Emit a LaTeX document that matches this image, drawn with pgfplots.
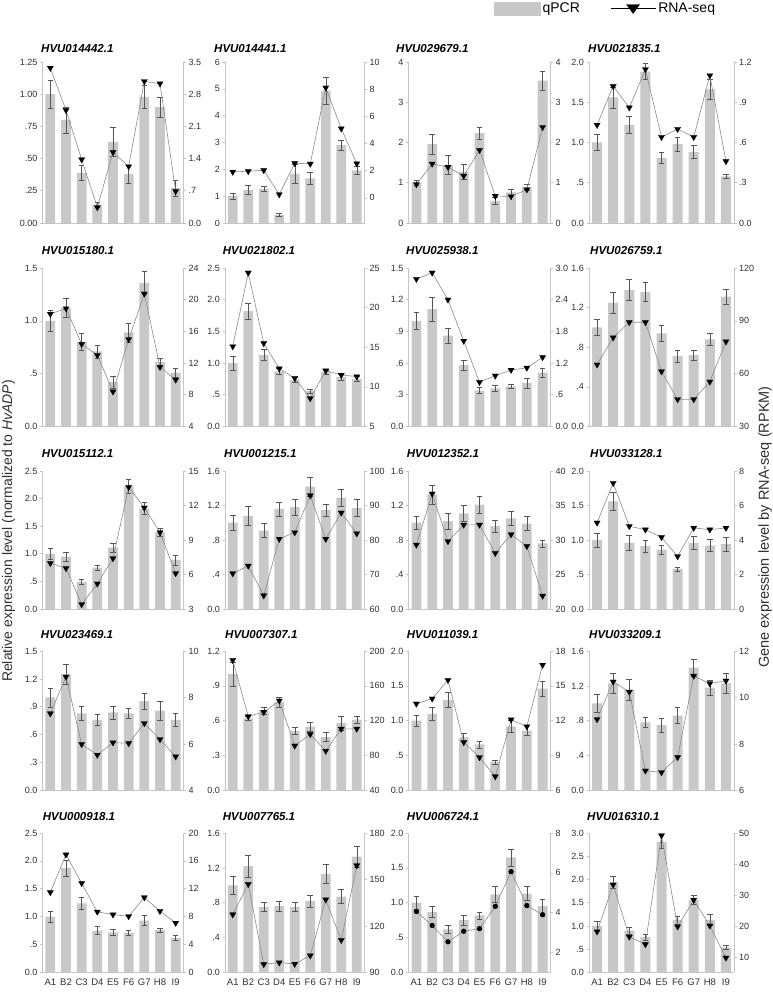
\documentclass[border=0pt]{standalone}
\usepackage{pgfplots}
\pgfplotsset{compat=1.18}
\usepackage{fontspec}
\setmainfont{Liberation Sans}
\definecolor{barc}{HTML}{C8C8C8}
\definecolor{errc}{HTML}{555555}
\definecolor{axisc}{HTML}{C4C4C4}
\definecolor{linec}{HTML}{8A8A8A}
\definecolor{tickc}{HTML}{303030}
\newcommand{\tickfont}{\fontsize{9}{11}\selectfont}
\pgfplotsset{
  base/.style={scale only axis, anchor=south west, xmin=0.5, xmax=9.5, xtick=\empty,
    ticklabel style={font=\tickfont, text=tickc},
    yticklabel style={inner xsep=2.5pt},
    axis line style={draw=axisc, line width=0.6pt, -},
    tick style={draw=axisc, line width=0.6pt}, major tick length=2.5pt, tick align=outside,
    clip=false},
  barax/.style={base, axis x line*=bottom, axis y line*=left},
  lineax/.style={base, axis x line=none, axis y line*=right},
  bottomrow/.style={xtick={1,...,9}, xticklabels={A1,B2,C3,D4,E5,F6,G7,H8,I9}, xtick style={draw=none},
    xticklabel style={font=\fontsize{9.5}{11}\selectfont}},
  bars/.style={ybar, bar width=0.62, fill=barc, draw=none,
    error bars/.cd, y dir=both, y explicit,
    error bar style={draw=errc, line width=0.5pt},
    error mark options={draw=errc, line width=0.5pt, rotate=90, mark size=2.8pt}},
  rline/.style={draw=linec, line width=0.6pt, mark=triangle*, mark size=3.6pt,
    mark options={rotate=180, fill=black, draw=black, line width=0.2pt}},
  rlinec/.style={draw=linec, line width=0.6pt, mark=*, mark size=2.3pt,
    mark options={fill=black, draw=black}},
  rt/.style={ytick={#1}, yticklabels={#1}},
  L125/.style={ymin=0,ymax=1.25,ytick={0,0.25,0.5,0.75,1,1.25},yticklabels={0.00,.25,.50,.75,1.00,1.25}},
  L6/.style={ymin=0,ymax=6,rt={0,1,2,3,4,5,6}},
  L4/.style={ymin=0,ymax=4,rt={0,1,2,3,4}},
  L2/.style={ymin=0,ymax=2,ytick={0,0.5,1,1.5,2},yticklabels={0.0,.5,1.0,1.5,2.0}},
  L15a/.style={ymin=0,ymax=1.5,ytick={0,0.5,1,1.5},yticklabels={0.0,.5,1.0,1.5}},
  L25/.style={ymin=0,ymax=2.5,ytick={0,0.5,1,1.5,2,2.5},yticklabels={0.0,.5,1.0,1.5,2.0,2.5}},
  L15b/.style={ymin=0,ymax=1.5,ytick={0,0.3,0.6,0.9,1.2,1.5},yticklabels={0.0,.3,.6,.9,1.2,1.5}},
  L16/.style={ymin=0,ymax=1.6,ytick={0,0.4,0.8,1.2,1.6},yticklabels={0.0,.4,.8,1.2,1.6}},
  L12/.style={ymin=0,ymax=1.2,ytick={0,0.3,0.6,0.9,1.2},yticklabels={0.0,.3,.6,.9,1.2}},
  L3/.style={ymin=0,ymax=3,ytick={0,0.5,1,1.5,2,2.5,3},yticklabels={0.0,.5,1.0,1.5,2.0,2.5,3.0}},
}
% #1 x, #2 y, #3 w, #4 h, #5 left opts, #6 right opts, #7 bars, #8 line, #9 line style
\newcommand{\panel}[9]{%
  \begin{axis}[barax, at={(#1pt,#2pt)}, width=#3pt, height=#4pt, #5]
    \addplot[bars] coordinates {#7};
  \end{axis}
  \begin{axis}[lineax, at={(#1pt,#2pt)}, width=#3pt, height=#4pt, #6]
    \addplot[#9] coordinates {#8};
  \end{axis}}
\newcommand{\ttl}[3]{\node[anchor=base west, inner sep=0pt, font=\fontsize{11.5}{13}\selectfont\bfseries\itshape] at (#1pt,#2pt) {#3};}
\begin{document}
\begin{tikzpicture}
\path[use as bounding box] (0pt,0pt) rectangle (772pt,992pt);
% ---------------- Row 1
\panel{42.5}{769}{141}{161}{L125}{ymin=0,ymax=3.5,ytick={0,0.7,1.4,2.1,2.8,3.5},yticklabels={0.0,.7,1.4,2.1,2.8,3.5}}
{(1,1.00)+-(0,0.11) (2,0.80)+-(0,0.10) (3,0.39)+-(0,0.06) (4,0.14)+-(0,0.02) (5,0.63)+-(0,0.11) (6,0.38)+-(0,0.07) (7,0.98)+-(0,0.09) (8,0.90)+-(0,0.08) (9,0.27)+-(0,0.06)}
{(1,3.37) (2,2.45) (3,1.38) (4,0.34) (5,1.54) (6,1.23) (7,3.08) (8,3.03) (9,0.69)}{rline}
\panel{225}{769}{139.5}{161}{L6}{ymin=-1.85,ymax=10,rt={0,2,4,6,8,10}}
{(1,1.00)+-(0,0.12) (2,1.23)+-(0,0.16) (3,1.27)+-(0,0.10) (4,0.30)+-(0,0.05) (5,1.84)+-(0,0.35) (6,1.66)+-(0,0.22) (7,4.93)+-(0,0.50) (8,2.90)+-(0,0.20) (9,1.96)+-(0,0.16)}
{(1,1.91) (2,1.96) (3,2.03) (4,0.25) (5,2.55) (6,2.50) (7,8.11) (8,5.10) (9,2.52)}{rline}
\panel{408.5}{769}{142}{161}{L4}{ymin=0,ymax=4,rt={0,1,2,3,4}}
{(1,1.00)+-(0,0.07) (2,1.96)+-(0,0.24) (3,1.45)+-(0,0.23) (4,1.27)+-(0,0.19) (5,2.23)+-(0,0.16) (6,0.55)+-(0,0.08) (7,0.76)+-(0,0.08) (8,0.89)+-(0,0.08) (9,3.54)+-(0,0.23)}
{(1,0.96) (2,1.47) (3,1.39) (4,1.17) (5,1.81) (6,0.67) (7,0.66) (8,0.83) (9,2.38)}{rline}
\panel{589}{769}{145}{161}{L2}{ymin=0,ymax=1.2,ytick={0,0.3,0.6,0.9,1.2},yticklabels={0.0,.3,.6,.9,1.2}}
{(1,1.00)+-(0,0.10) (2,1.56)+-(0,0.13) (3,1.22)+-(0,0.10) (4,1.88)+-(0,0.10) (5,0.81)+-(0,0.07) (6,0.98)+-(0,0.09) (7,0.88)+-(0,0.08) (8,1.66)+-(0,0.12) (9,0.58)+-(0,0.02)}
{(1,0.73) (2,1.02) (3,0.86) (4,1.145) (5,0.64) (6,0.70) (7,0.64) (8,1.10) (9,0.46)}{rline}
% ---------------- Row 2
\panel{42.5}{565.5}{141}{158.5}{L15a}{ymin=4,ymax=24,rt={4,8,12,16,20,24}}
{(1,1.00)+-(0,0.10) (2,1.12)+-(0,0.09) (3,0.80)+-(0,0.08) (4,0.71)+-(0,0.06) (5,0.42)+-(0,0.06) (6,0.89)+-(0,0.09) (7,1.36)+-(0,0.11) (8,0.61)+-(0,0.04) (9,0.51)+-(0,0.04)}
{(1,18.2) (2,18.9) (3,14.4) (4,13.0) (5,8.4) (6,15.0) (7,20.75) (8,11.5) (9,9.9)}{rline}
\panel{225}{565.5}{139.5}{158.5}{L25}{ymin=5,ymax=25,rt={5,10,15,20,25}}
{(1,1.00)+-(0,0.11) (2,1.82)+-(0,0.13) (3,1.13)+-(0,0.09) (4,0.87)+-(0,0.05) (5,0.73)+-(0,0.04) (6,0.56)+-(0,0.03) (7,0.86)+-(0,0.03) (8,0.78)+-(0,0.05) (9,0.75)+-(0,0.04)}
{(1,15.1) (2,24.4) (3,15.5) (4,12.3) (5,11.1) (6,8.55) (7,12.05) (8,11.5) (9,11.3)}{rline}
\panel{408.5}{565.5}{142}{158.5}{L15b}{ymin=0,ymax=3,ytick={0,0.6,1.2,1.8,2.4,3},yticklabels={0.0,.6,1.2,1.8,2.4,3.0}}
{(1,1.00)+-(0,0.08) (2,1.11)+-(0,0.11) (3,0.86)+-(0,0.07) (4,0.58)+-(0,0.05) (5,0.34)+-(0,0.03) (6,0.36)+-(0,0.03) (7,0.38)+-(0,0.02) (8,0.41)+-(0,0.05) (9,0.51)+-(0,0.04)}
{(1,2.79) (2,2.91) (3,2.40) (4,1.62) (5,0.84) (6,0.96) (7,1.07) (8,1.11) (9,1.31)}{rline}
\panel{589}{565.5}{145}{158.5}{L16}{ymin=30,ymax=120,rt={30,60,90,120}}
{(1,1.00)+-(0,0.08) (2,1.25)+-(0,0.11) (3,1.38)+-(0,0.11) (4,1.36)+-(0,0.10) (5,0.94)+-(0,0.08) (6,0.71)+-(0,0.06) (7,0.72)+-(0,0.05) (8,0.88)+-(0,0.06) (9,1.31)+-(0,0.08)}
{(1,65.1) (2,80.5) (3,89.2) (4,89.2) (5,61.2) (6,45.4) (7,45.4) (8,55.4) (9,78.2)}{rline}
% ---------------- Row 3
\panel{42.5}{383}{141}{138}{L25}{ymin=3,ymax=15,rt={3,6,9,12,15}}
{(1,1.00)+-(0,0.10) (2,0.95)+-(0,0.08) (3,0.49)+-(0,0.04) (4,0.75)+-(0,0.05) (5,1.11)+-(0,0.09) (6,2.22)+-(0,0.13) (7,1.82)+-(0,0.11) (8,1.39)+-(0,0.08) (9,0.89)+-(0,0.09)}
{(1,6.98) (2,6.55) (3,3.4) (4,5.2) (5,7.4) (6,13.6) (7,11.8) (8,9.65) (9,6.1)}{rline}
\panel{225}{383}{139.5}{138}{L16}{ymin=60,ymax=100,rt={60,70,80,90,100}}
{(1,1.00)+-(0,0.09) (2,1.08)+-(0,0.11) (3,0.91)+-(0,0.08) (4,1.16)+-(0,0.08) (5,1.18)+-(0,0.09) (6,1.42)+-(0,0.11) (7,1.15)+-(0,0.07) (8,1.29)+-(0,0.10) (9,1.17)+-(0,0.10)}
{(1,70.3) (2,72.5) (3,63.9) (4,80.3) (5,82.2) (6,92.9) (7,80.3) (8,87.9) (9,81.9)}{rline}
\panel{408.5}{383}{142}{138}{L16}{ymin=20,ymax=40,rt={20,25,30,35,40}}
{(1,1.00)+-(0,0.08) (2,1.33)+-(0,0.11) (3,1.02)+-(0,0.09) (4,1.11)+-(0,0.09) (5,1.21)+-(0,0.10) (6,0.96)+-(0,0.07) (7,1.05)+-(0,0.08) (8,0.99)+-(0,0.08) (9,0.76)+-(0,0.04)}
{(1,29.3) (2,36.7) (3,29.8) (4,32.2) (5,32.2) (6,28.1) (7,30.8) (8,29.1) (9,21.9)}{rline}
\panel{589}{383}{145}{138}{L2}{ymin=0,ymax=8,rt={0,2,4,6,8}}
{(1,1.00)+-(0,0.10) (2,1.56)+-(0,0.13) (3,0.96)+-(0,0.11) (4,0.91)+-(0,0.09) (5,0.86)+-(0,0.07) (6,0.58)+-(0,0.03) (7,0.96)+-(0,0.09) (8,0.92)+-(0,0.09) (9,0.94)+-(0,0.10)}
{(1,5.0) (2,7.3) (3,4.8) (4,4.6) (5,4.16) (6,3.05) (7,4.7) (8,4.6) (9,4.7)}{rline}
% ---------------- Row 4
\panel{42.5}{201.5}{141}{139.5}{L15b}{ymin=4,ymax=10,rt={4,6,8,10}}
{(1,1.00)+-(0,0.10) (2,1.25)+-(0,0.11) (3,0.83)+-(0,0.08) (4,0.76)+-(0,0.06) (5,0.84)+-(0,0.07) (6,0.83)+-(0,0.05) (7,0.96)+-(0,0.09) (8,0.86)+-(0,0.10) (9,0.76)+-(0,0.07)}
{(1,7.31) (2,8.89) (3,5.99) (4,5.53) (5,6.06) (6,6.03) (7,6.89) (8,6.2) (9,5.46)}{rline}
\panel{225}{201.5}{139.5}{139.5}{L12}{ymin=40,ymax=200,rt={40,80,120,160,200}}
{(1,1.00)+-(0,0.10) (2,0.62)+-(0,0.02) (3,0.69)+-(0,0.03) (4,0.76)+-(0,0.04) (5,0.51)+-(0,0.03) (6,0.55)+-(0,0.04) (7,0.46)+-(0,0.04) (8,0.58)+-(0,0.06) (9,0.61)+-(0,0.03)}
{(1,189.5) (2,125) (3,130) (4,143) (5,91.3) (6,104.5) (7,85.4) (8,110.7) (9,110.7)}{rline}
\panel{408.5}{201.5}{142}{139.5}{L2}{ymin=6,ymax=18,rt={6,9,12,15,18}}
{(1,1.00)+-(0,0.08) (2,1.10)+-(0,0.10) (3,1.30)+-(0,0.11) (4,0.76)+-(0,0.06) (5,0.66)+-(0,0.05) (6,0.41)+-(0,0.03) (7,0.92)+-(0,0.08) (8,0.86)+-(0,0.07) (9,1.46)+-(0,0.11)}
{(1,13.46) (2,13.9) (3,15.5) (4,10.15) (5,8.85) (6,7.2) (7,12.1) (8,11.5) (9,16.8)}{rline}
\panel{589}{201.5}{145}{139.5}{L16}{ymin=6,ymax=12,rt={6,8,10,12}}
{(1,1.00)+-(0,0.10) (2,1.23)+-(0,0.11) (3,1.16)+-(0,0.12) (4,0.78)+-(0,0.06) (5,0.75)+-(0,0.08) (6,0.86)+-(0,0.09) (7,1.41)+-(0,0.10) (8,1.18)+-(0,0.09) (9,1.23)+-(0,0.11)}
{(1,9.06) (2,10.68) (3,10.24) (4,6.85) (5,6.78) (6,7.43) (7,10.93) (8,10.6) (9,10.72)}{rline}
% ---------------- Row 5
\panel{42.5}{19.5}{141}{139.5}{L25,bottomrow}{ymin=0,ymax=20,rt={0,4,8,12,16,20}}
{(1,1.00)+-(0,0.10) (2,1.87)+-(0,0.15) (3,1.24)+-(0,0.11) (4,0.75)+-(0,0.07) (5,0.72)+-(0,0.06) (6,0.71)+-(0,0.05) (7,0.93)+-(0,0.09) (8,0.76)+-(0,0.04) (9,0.62)+-(0,0.05)}
{(1,11.5) (2,16.9) (3,12.8) (4,8.7) (5,8.3) (6,8.05) (7,10.75) (8,8.8) (9,7.1)}{rline}
\panel{225}{19.5}{139.5}{139.5}{L16,bottomrow}{ymin=90,ymax=180,rt={90,120,150,180}}
{(1,1.00)+-(0,0.10) (2,1.22)+-(0,0.13) (3,0.75)+-(0,0.05) (4,0.76)+-(0,0.06) (5,0.75)+-(0,0.05) (6,0.82)+-(0,0.07) (7,1.13)+-(0,0.11) (8,0.87)+-(0,0.08) (9,1.33)+-(0,0.12)}
{(1,127.4) (2,147) (3,95.3) (4,96.4) (5,95.5) (6,100.9) (7,137) (8,110.9) (9,159)}{rline}
\panel{408.5}{19.5}{142}{139.5}{L2,bottomrow}{ymin=1,ymax=8,rt={2,4,6,8}}
{(1,1.00)+-(0,0.09) (2,0.87)+-(0,0.08) (3,0.62)+-(0,0.06) (4,0.75)+-(0,0.07) (5,0.82)+-(0,0.05) (6,1.12)+-(0,0.11) (7,1.65)+-(0,0.12) (8,1.13)+-(0,0.10) (9,0.95)+-(0,0.10)}
{(1,4.06) (2,3.36) (3,2.54) (4,3.07) (5,3.2) (6,4.32) (7,6.06) (8,4.36) (9,3.9)}{rlinec}
\panel{589}{19.5}{145}{139.5}{L3,bottomrow}{ymin=5,ymax=50,rt={10,20,30,40,50}}
{(1,1.00)+-(0,0.10) (2,1.94)+-(0,0.12) (3,0.90)+-(0,0.08) (4,0.76)+-(0,0.06) (5,2.81)+-(0,0.14) (6,1.13)+-(0,0.09) (7,1.56)+-(0,0.10) (8,1.13)+-(0,0.12) (9,0.54)+-(0,0.05)}
{(1,18.2) (2,33.3) (3,16.5) (4,14.1) (5,49.2) (6,19.8) (7,28.4) (8,20.1) (9,9.75)}{rline}
% ---------------- Titles
\ttl{41}{939.5}{HVU014442.1}
\ttl{214}{939.5}{HVU014441.1}
\ttl{396}{939.5}{HVU029679.1}
\ttl{588}{939.5}{HVU021835.1}
\ttl{41.7}{737.7}{HVU015180.1}
\ttl{222.7}{737.7}{HVU021802.1}
\ttl{406}{737.7}{HVU025938.1}
\ttl{590}{737.7}{HVU026759.1}
\ttl{41.7}{534.3}{HVU015112.1}
\ttl{224}{534.3}{HVU001215.1}
\ttl{406.7}{534.3}{HVU012352.1}
\ttl{590}{534.3}{HVU033128.1}
\ttl{40.7}{353.7}{HVU023469.1}
\ttl{225}{353.7}{HVU007307.1}
\ttl{406.7}{353.7}{HVU011039.1}
\ttl{589}{353.7}{HVU033209.1}
\ttl{42.7}{171.3}{HVU000918.1}
\ttl{222.7}{171.3}{HVU007765.1}
\ttl{406.7}{171.3}{HVU006724.1}
\ttl{587}{171.3}{HVU016310.1}
% ---------------- Axis labels
\node[rotate=90, font=\fontsize{14}{16}\selectfont, text=tickc] at (8.5pt,461pt) {Relative expression level (normalized to \textit{HvADP})};
\node[rotate=90, font=\fontsize{14.5}{16}\selectfont, text=tickc] at (765pt,465pt) {Gene expression level by RNA-seq (RPKM)};
% ---------------- Legend
\begin{axis}[at={(0pt,0pt)}, anchor=south west, scale only axis, width=772pt, height=992pt,
  xmin=0, xmax=1, ymin=0, ymax=1, hide axis, legend columns=2,
  legend style={at={(0.6399,0.9914)}, anchor=west, draw=none, fill=none,
    font=\fontsize{14}{17}\selectfont, inner sep=0pt,
    /tikz/every even column/.append style={column sep=28pt}}]
\addlegendimage{legend image code/.code={\fill[barc] (0pt,-6.5pt) rectangle (46pt,6.5pt);}}
\addlegendentry{qPCR}
\addlegendimage{legend image code/.code={\draw[black,line width=1.3pt] (0pt,0pt) -- (45pt,0pt);
   \fill[black] (16pt,4pt) -- (29pt,4pt) -- (22.5pt,-5pt) -- cycle;}}
\addlegendentry{RNA-seq}
\end{axis}
\end{tikzpicture}
\end{document}
